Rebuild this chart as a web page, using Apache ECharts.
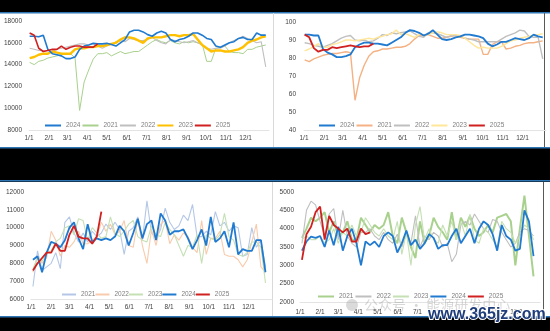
<!DOCTYPE html>
<html><head><meta charset="utf-8">
<script src="https://cdn.jsdelivr.net/npm/echarts@6/dist/echarts.min.js"></script>
<style>html,body{margin:0;padding:0;background:#000;}#c{width:550px;height:331px;}</style>
</head><body><div id="c"></div><script>
// ---- axis labels ----
const monthLabels = ['1/1','2/1','3/1','4/1','5/1','6/1','7/1','8/1','9/1','10/1','11/1','12/1'];
const monthDays = [0,31,59,90,120,151,181,212,243,273,304,334];
// week positions (day of year) of the weekly observations
const daysTop = [1,8,15,22,29,36,43,50,57,64,71,78,85,92,99,106,113,120,127,134,141,148,155,162,169,176,183,190,197,204,211,218,225,232,239,246,253,260,267,274,281,288,295,302,309,316,323,330,337,344,351,358,365];
const daysBottom = [3,10,17,24,31,38,45,52,59,66,73,80,87,94,101,108,115,122,129,136,143,150,157,164,171,178,185,192,199,206,213,220,227,234,241,248,255,262,269,276,283,290,297,304,311,318,325,332,339,346,353,360];

// ---- top-left panel ----
const tl2024 = [16600,16600,16550,16700,15400,15000,14900,14800,14550,14550,14700,15400,15700,15800,15950,15900,15900,15950,15850,15700,16000,16300,17000,17150,17150,17000,16750,16600,16900,17050,16900,16300,16100,16300,16400,16600,16900,16900,16700,16400,16300,15700,15600,15800,16000,16100,16400,16500,16300,16300,16900,16700,16700];
const tl2021 = [14200,14000,14300,14400,14600,14700,14800,14900,15000,15000,14600,9800,12400,13500,14500,15000,15000,15100,14800,15000,15200,15000,15100,15200,15200,15500,15800,16100,16300,16100,16000,16200,16000,15900,16100,16000,16100,16000,15900,14300,14300,15500,15600,15700,15200,15100,15100,15000,15400,15400,15600,15700,15800];
const tl2022 = [15500,15400,15300,15300,15300,15200,15400,15500,15600,15700,15800,15900,15900,15800,15900,15700,15500,15700,15900,16100,16200,16100,16400,16300,16200,16200,16300,16500,16200,16000,15900,16300,16200,16100,16000,16100,16200,16000,15800,15500,15400,15500,15500,15700,16000,16200,16400,16600,16400,16200,16000,16100,13800];
const tl2023 = [14600,14700,14900,15000,15000,15200,15100,15000,15000,15000,15400,15500,15500,15600,15600,15700,15700,15800,15900,16000,16300,16500,16500,16400,16200,16000,16400,16500,16500,16500,16600,16700,16700,16600,16700,16700,16800,16300,15800,15500,15200,15300,15300,15200,15200,15300,15400,15600,16000,16200,16300,16500,16600];
const tl2025 = [16900,16700,15500,15200,15300,15400,15400,15700,15400,15600,15700,15700,15600,15600,15600,15900];

// ---- top-right panel ----
const tr2024 = [93,93,92.5,92.5,85,83,82,80.5,80.5,81,82,86,87.5,88.5,88.5,88,88,87.5,87,88.5,90,91.5,94,95.5,95,94,92.5,93.5,95.5,93,90.5,90,90.5,91.5,92,93,93,92.5,92,91,88,86.5,87.5,89,89,90,91,90.5,90,91,93,92,91.5];
const tr2021 = [79,78,79.5,80.5,81.5,82,82.5,82.5,83,83.5,83,56.5,69,76,81,83.5,84,85,85,85.5,86,86,86.5,88,90.5,92.5,92.5,93,92,91,91,91.5,92,92.5,91.5,91,90.5,90.5,90.5,82,82,87.5,89,89,85,85.5,86.5,87,88,88.5,88.5,89,89.5];
const tr2022 = [88.5,88,87,86.5,86,87,88,89.5,91,92,92.5,90,89.5,90,89,89.5,91,93,92.5,94,93.5,94,94.5,95,93.5,92,91.5,94,94,93.5,92.5,91.5,92.5,92.5,92,91,90.5,90,89,89,89,89,89,90.5,92,93,94,95.5,95,92,91.5,91.5,79.5];
const tr2023 = [84,85,86.5,88,86,86,87.5,88,89,90,90,89.5,90,90.5,91,90.5,91.5,92,93,93.5,95.5,93,93.5,92.5,91.5,93,93,93,94,94.5,94,93,93,93,92.5,91,89,87,85.5,86,85.5,85.5,85.5,86.5,88,89.5,90,91,91.5,92,92.5,93,93.5];
const tr2025 = [93,91.5,85.5,83.5,84.5,84.5,86,85.5,86,86.5,87,86.5,86,86.5,86.5,88];

// ---- bottom-left panel ----
const bl2021 = [6700,8700,7600,7800,8000,8600,7700,10300,10600,9700,9200,9700,9200,9800,9500,9700,10200,9900,10300,9900,8500,9800,10000,10600,9300,11500,9700,9400,9900,11100,10300,9900,10100,10700,10400,11300,9500,9500,9800,9600,10900,10100,10300,9800,10100,10000,8400,8500,10000,8900,9300,7800];
const bl2022 = [7500,8400,8000,8300,9800,9300,8400,9000,8900,9200,9800,9100,9100,9300,9500,10300,9800,10200,9600,9800,10400,9000,8900,10500,9000,8000,9900,9000,10200,10400,9100,9600,9300,9700,9500,8900,8600,10400,8500,9400,9400,9800,8500,8400,8400,8200,7800,8200,9200,10200,7800,7500];
const bl2023 = [7700,8300,8100,8600,8700,9200,9400,10000,10100,9600,10500,10400,9300,10000,9700,9400,9500,10600,9700,9500,9800,10200,10400,9500,9300,9200,10100,9600,9500,10300,9900,9600,9000,8400,9000,8900,9600,8000,9600,9400,9300,9600,10800,9500,9300,8500,8400,8600,9200,9200,8900,6900];
const bl2024 = [8200,8400,7500,8600,9200,9100,8900,9300,10000,10300,9400,8800,10200,9200,9400,9300,9400,9300,9500,10100,9800,9000,9700,10500,9400,10200,10400,9300,10800,10400,9600,9800,9800,9900,9400,8800,9300,9900,9000,10600,9200,9400,9800,8900,10300,8500,8800,8700,8700,9300,9300,7500];
const bl2025 = [7600,8000,8300,8600,8600,9100,8700,8700,9600,10100,9500,9400,9400,9100,9500,10900];

// ---- bottom-right panel ----
const br2021 = [3750,4000,4300,4200,4300,4450,3900,4200,3800,3900,4200,3700,3700,4300,4100,3900,4100,4000,4100,4450,3800,3600,4300,3900,3500,3200,4200,3600,3800,4300,4050,3900,3700,4450,3700,4300,4050,4350,4000,3800,3900,4100,3900,4300,4350,4400,4200,3000,4000,4900,3800,2700];
const br2022 = [3600,4500,4750,4650,4200,3800,4400,4550,3700,4500,3800,3600,3500,3900,3900,4000,3800,3700,3900,3700,3600,3850,3500,3900,3600,4350,3500,3800,3700,3900,3800,3500,3600,3100,3300,4100,4200,4100,4400,4200,4000,3900,4250,4200,3900,3700,3500,3600,3900,4000,3950,3800];
const br2023 = [3700,3800,3700,3700,3800,3600,3700,4000,3600,3900,3800,4100,3800,3900,4300,4100,3900,3800,4000,3800,3700,4200,3300,3900,3000,4100,4600,3700,4000,3700,3600,4100,3800,4200,3700,4200,3800,4400,3700,3600,4000,3900,3700,3500,4200,4000,3900,3600,3800,4100,4000,3700];
const br2024 = [3400,3650,3780,3750,3800,3500,3950,3550,4050,3400,3800,4000,3600,3000,3650,3550,3650,3500,3800,3900,3800,3350,3600,3950,3550,3700,3450,3600,3850,3750,3450,3550,3550,3800,4000,3600,3800,4000,3600,4000,4200,4100,3850,3400,4100,3800,3700,3400,3450,4500,4200,3250];
const br2025 = [3150,3850,4050,4450,4600,3700,4350,4100,4000,3900,4000,3650,3650,4000,3850,3900];

const FONT = 'Liberation Sans';
const LBL = '#404040';
function pair(days, vals){ return vals.map((v,i)=>[days[i], v]); }

const panels = [
  {grid:{left:29,top:21,width:240,height:109}, y:{min:8000,max:18000,interval:2000}, xm:5, ym:7,
   legend:{left:45,top:122,iw:16,gap:2},
   series:[
    {name:'2024', d:daysTop, v:tl2024, c:'#1f7ad0', w:1.6},
    {name:'2021', d:daysTop, v:tl2021, c:'#a9d18e', w:1},
    {name:'2022', d:daysTop, v:tl2022, c:'#bfbfbf', w:1.1},
    {name:'2023', d:daysTop, v:tl2023, c:'#ffc000', w:2.4},
    {name:'2025', d:daysTop, v:tl2025, c:'#d0201f', w:1.6}]},
  {grid:{left:304,top:22,width:242,height:108}, y:{min:40,max:100,interval:10}, xm:5, ym:8,
   legend:{left:319,top:122,iw:16,gap:2},
   series:[
    {name:'2024', d:daysTop, v:tr2024, c:'#1f7ad0', w:1.8},
    {name:'2021', d:daysTop, v:tr2021, c:'#f4b183', w:1.4},
    {name:'2022', d:daysTop, v:tr2022, c:'#bfbfbf', w:1.4},
    {name:'2023', d:daysTop, v:tr2023, c:'#ffe699', w:1.4},
    {name:'2025', d:daysTop, v:tr2025, c:'#d0201f', w:1.8}]},
  {grid:{left:31,top:192,width:241,height:107}, y:{min:6000,max:12000,interval:1000}, xm:5, ym:7,
   legend:{left:62,top:291,iw:14,gap:0},
   series:[
    {name:'2021', d:daysBottom, v:bl2021, c:'#b4c7e7', w:1.1},
    {name:'2022', d:daysBottom, v:bl2022, c:'#f8cbad', w:1.1},
    {name:'2023', d:daysBottom, v:bl2023, c:'#c5e0b4', w:1.1},
    {name:'2024', d:daysBottom, v:bl2024, c:'#1f7ad0', w:1.8},
    {name:'2025', d:daysBottom, v:bl2025, c:'#d0201f', w:1.8}]},
  {grid:{left:300,top:192,width:240,height:110}, y:{min:2000,max:5000,interval:500}, xm:7, ym:6,
   legend:{left:318,top:293,iw:16,gap:2},
   series:[
    {name:'2021', d:daysBottom, v:br2021, c:'#a9d18e', w:2},
    {name:'2022', d:daysBottom, v:br2022, c:'#bfbfbf', w:1.1},
    {name:'2023', d:daysBottom, v:br2023, c:'#c5e0b4', w:1.1},
    {name:'2024', d:daysBottom, v:br2024, c:'#1f7ad0', w:1.8},
    {name:'2025', d:daysBottom, v:br2025, c:'#d0201f', w:1.8}]}
];

const option = {
  backgroundColor:'#000',
  animation:false,
  grid:[], xAxis:[], yAxis:[], series:[], legend:[],
  graphic:{elements:[]}
};
const G = option.graphic.elements;
function rect(x,y,w,h,fill,z){ G.push({type:'rect', shape:{x,y,width:w,height:h}, style:{fill}, z:z||-10, silent:true}); }
// panel backgrounds & frame lines
rect(0,13,550,134,'#ffffff');
rect(0,182,550,134,'#ffffff');
rect(0,12,550,1.5,'#2e75b6',-9);
rect(0,147,550,1.5,'#2e75b6',-9);
rect(0,180,550,1.5,'#2e75b6',-9);
rect(0,316,550,1.5,'#2e75b6',-9);
rect(273,13,1,134,'#d9d9d9',-9);
rect(272,182,1,134,'#d9d9d9',-9);
rect(544,13,1,134,'#595959',-9);
rect(543,182,1,134,'#595959',-9);

panels.forEach((p,k)=>{
  option.grid.push(Object.assign({containLabel:false}, p.grid));
  option.xAxis.push({type:'value', gridIndex:k, min:0, max:370,
    axisLine:{show:true, lineStyle:{color:'#e3e3e3', width:1}},
    axisTick:{show:false}, splitLine:{show:false},
    axisLabel:{customValues:monthDays, margin:p.xm, fontSize:6.5, fontFamily:FONT, color:LBL,
      formatter:(v)=>{ const i=monthDays.indexOf(v); return i>=0?monthLabels[i]:''; }}});
  option.yAxis.push({type:'value', gridIndex:k, min:p.y.min, max:p.y.max, interval:p.y.interval,
    axisLine:{show:false}, axisTick:{show:false}, splitLine:{show:false},
    axisLabel:{margin:p.ym, fontSize:6.5, fontFamily:FONT, color:LBL, formatter:(v)=>String(v)}});
  const names=[];
  p.series.forEach(s=>{
    names.push({name:s.name+'#'+k, icon:'rect', itemStyle:{color:s.c}});
    option.series.push({type:'line', name:s.name+'#'+k, xAxisIndex:k, yAxisIndex:k,
      data:pair(s.d,s.v), symbol:'none', smooth:false,
      lineStyle:{color:s.c, width:s.w}, itemStyle:{color:s.c},
      z: (s.name==='2025'?5:(s.name==='2024'?4:3))});
  });
  option.legend.push({data:names, left:p.legend.left, top:p.legend.top, orient:'horizontal',
    itemWidth:p.legend.iw, itemHeight:2, itemGap:p.legend.gap, padding:0,
    formatter:(n)=>n.split('#')[0],
    textStyle:{fontSize:6.5, fontFamily:FONT, color:'#7f7f7f'}});
});

// watermark overlay
G.push({type:'circle', shape:{cx:352, cy:305, r:6}, style:{fill:'rgba(150,150,150,0.35)'}, z:50, silent:true});
G.push({type:'text', left:364, top:298, style:{text:'公众号 · 能源研发中心', font:'14px "Noto Sans CJK SC"', fill:'rgba(140,140,140,0.35)'}, z:50, silent:true});
G.push({type:'text', left:427, top:306, style:{text:'www.365jz.com', font:'bold 16px "Liberation Sans"', fill:'#1f3d7a', stroke:'#ffffff', lineWidth:2}, z:60, silent:true});

const chart = echarts.init(document.getElementById('c'), null, {renderer:'canvas'});
chart.setOption(option);
</script></body></html>
